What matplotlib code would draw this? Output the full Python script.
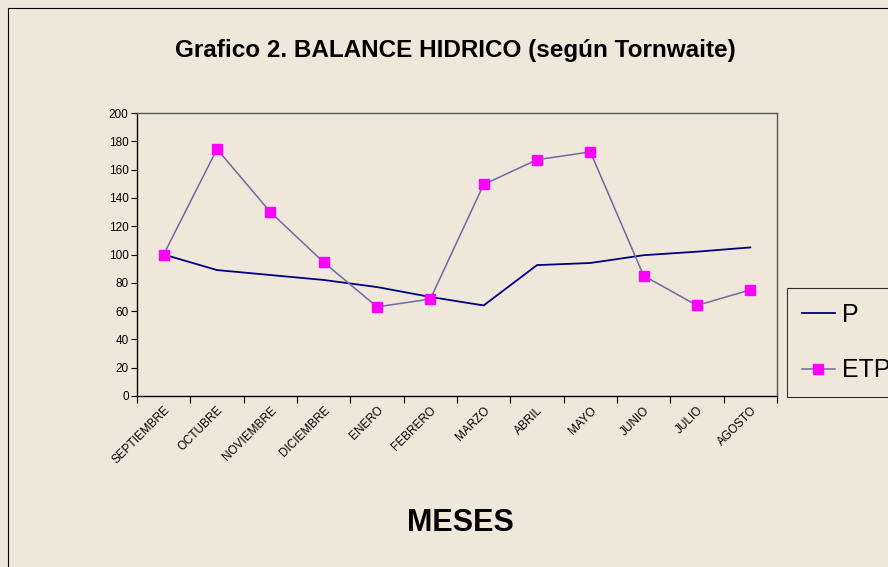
import matplotlib.pyplot as plt
from matplotlib.patches import Rectangle

meses = ["SEPTIEMBRE", "OCTUBRE", "NOVIEMBRE", "DICIEMBRE", "ENERO", "FEBRERO",
         "MARZO", "ABRIL", "MAYO", "JUNIO", "JULIO", "AGOSTO"]
p_vals = [100, 89, 85.5, 82, 77, 70, 64, 92.5, 94, 99.5, 102, 105]
etp_vals = [100, 174.5, 130, 94.5, 63, 68.5, 149.5, 167, 172.5, 85, 64, 75]

bg = "#EFE8DA"
plt.rcParams['font.family'] = ['Liberation Sans', 'DejaVu Sans']

fig = plt.figure(figsize=(8.88, 5.67), dpi=100, facecolor=bg)
ax = fig.add_axes([137 / 888, 1 - 396 / 567, 640 / 888, 283 / 567], facecolor=bg)

x = list(range(len(meses)))
ax.plot(x, p_vals, color="#000080", lw=1.3, label="P")
ax.plot(x, etp_vals, color="#6B6B9E", lw=1.1, marker="s", markersize=7,
        markerfacecolor="#FF00FF", markeredgecolor="#FF00FF", label="ETP")

ax.set_xlim(-0.5, len(meses) - 0.5)
ax.set_ylim(0, 200)
ax.set_yticks(range(0, 201, 20))
# ticks between categories, labels centred on categories
ax.set_xticks([i - 0.5 for i in range(len(meses) + 1)])
ax.set_xticklabels([])
ax.set_xticks(x, minor=True)
ax.set_xticklabels(meses, minor=True, rotation=45, ha="right", va="top",
                   rotation_mode="anchor", fontsize=8.5)
ax.tick_params(axis="x", which="minor", length=0, pad=6)
ax.tick_params(axis="x", which="major", length=5, direction="out")
ax.tick_params(axis="y", length=4, labelsize=8.5, pad=2)
for s in ax.spines.values():
    s.set_color("#555555")
    s.set_linewidth(1)
ax.spines["left"].set_color("black")
ax.spines["bottom"].set_color("black")

fig.text(455 / 888, 1 - 50 / 567, "Grafico 2. BALANCE HIDRICO (según Tornwaite)",
         ha="center", va="center", fontsize=17.5, fontweight="bold")
fig.text(460 / 888, 1 - 523 / 567, "MESES", ha="center", va="center",
         fontsize=22, fontweight="bold")

leg = fig.legend(loc="upper left", bbox_to_anchor=(787 / 888, 1 - 288 / 567),
                 fontsize=18, frameon=True, fancybox=False, handlelength=1.3,
                 handletextpad=0.3, borderpad=0.6, labelspacing=1.25,
                 borderaxespad=0)
leg.get_frame().set_edgecolor("black")
leg.get_frame().set_facecolor(bg)
leg.get_frame().set_linewidth(0.8)

fig.patches.append(Rectangle((8 / 888, -0.1), 1.2, 1.1 - 8 / 567, fill=False,
                             edgecolor="black", lw=0.8, transform=fig.transFigure))

fig.savefig("out.png", dpi=100, facecolor=bg)
